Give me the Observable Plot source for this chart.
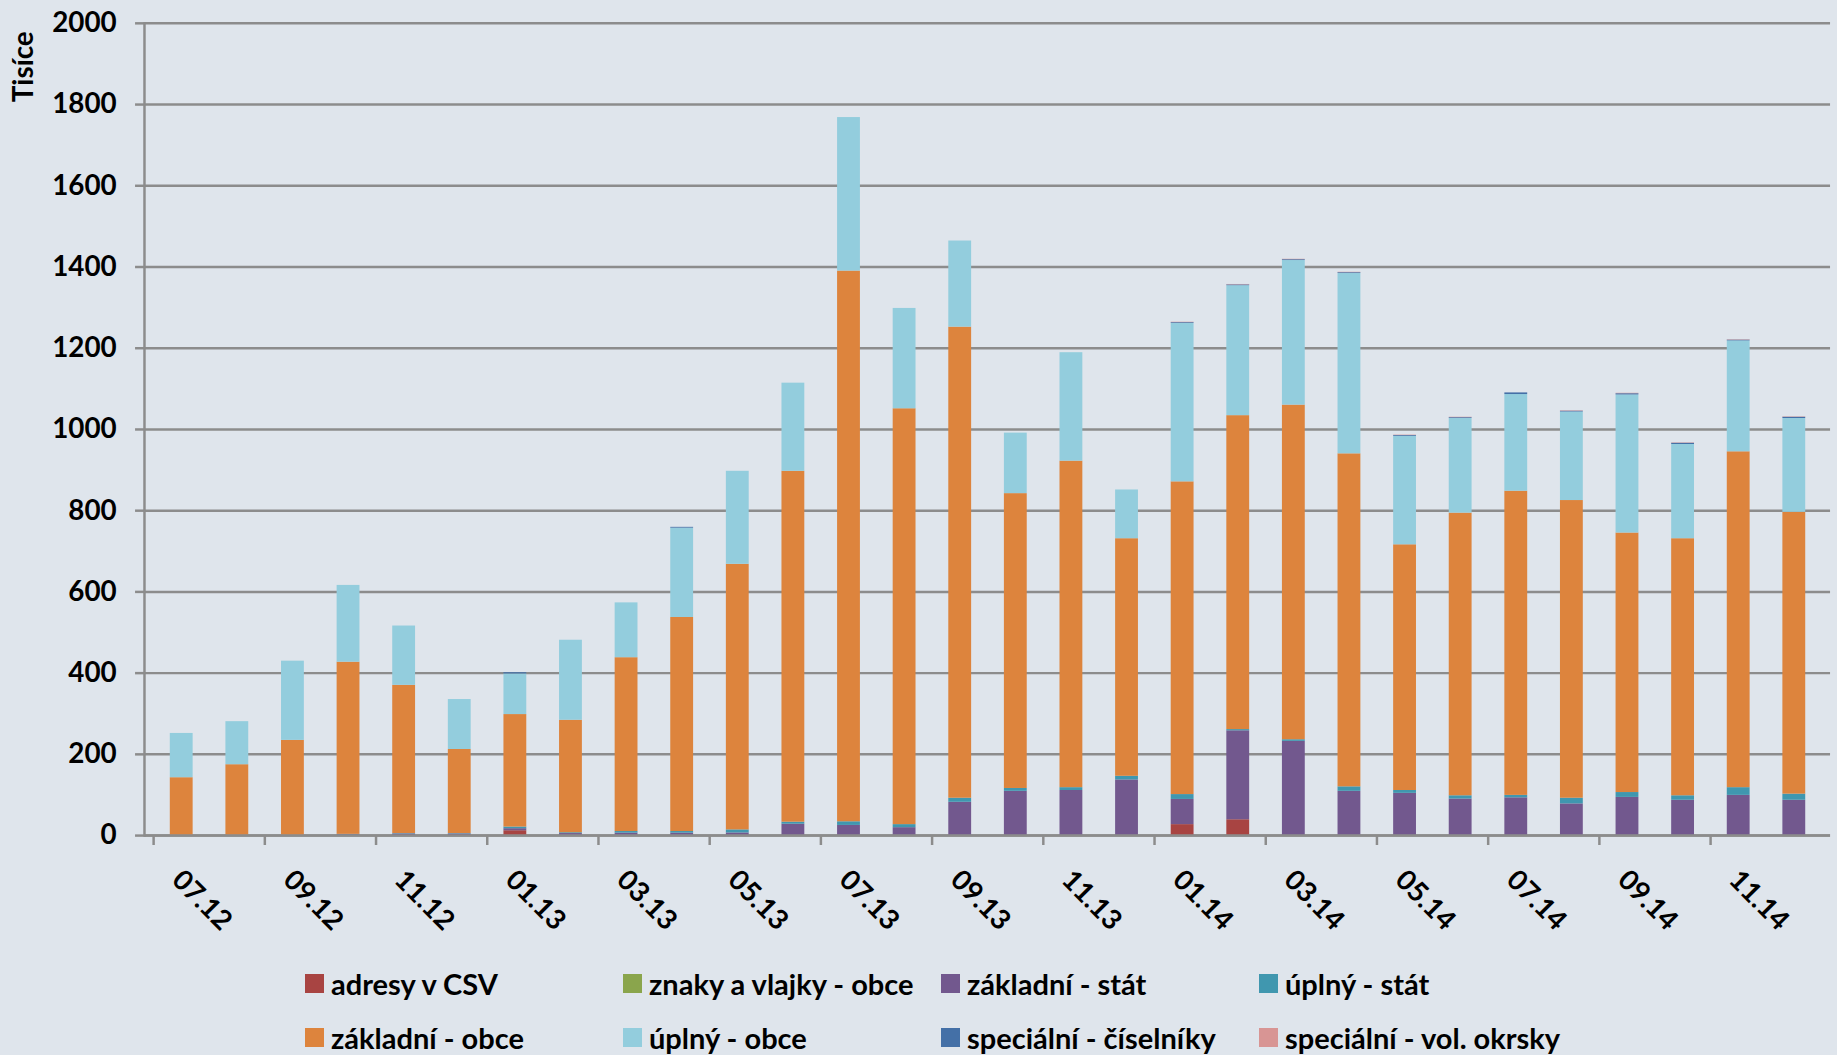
<!DOCTYPE html>
<html><head><meta charset="utf-8">
<script src="https://cdn.jsdelivr.net/npm/d3@7"></script>
<script src="https://cdn.jsdelivr.net/npm/@observablehq/plot@0.6"></script>
<style>
html,body{margin:0;padding:0;background:#dfe5ec;overflow:hidden;width:1837px;height:1055px}
body{font-family:Lato,"Open Sans",sans-serif;font-weight:700;color:#000}
#chart svg{display:block}
#legend{display:grid;grid-template-columns:repeat(4,318px);margin-left:305px;padding-top:3px}
.item{display:flex;align-items:center;height:54px;font-size:29px;white-space:nowrap}
.sw{width:19px;height:19px;margin-right:7px;flex:none}
</style></head><body>
<div id="chart"></div><div id="legend"></div>
<script>
const months = ["07.12","08.12","09.12","10.12","11.12","12.12","01.13","02.13","03.13","04.13","05.13","06.13","07.13","08.13","09.13","10.13","11.13","12.13","01.14","02.14","03.14","04.14","05.14","06.14","07.14","08.14","09.14","10.14","11.14","12.14"];
const xTickLabels = ["07.12","09.12","11.12","01.13","03.13","05.13","07.13","09.13","11.13","01.14","03.14","05.14","07.14","09.14","11.14"];
const yTicks = [0,200,400,600,800,1000,1200,1400,1600,1800,2000];

const seriesNames = ["adresy v CSV","znaky a vlajky - obce","základní - stát","úplný - stát","základní - obce","úplný - obce","speciální - číselníky","speciální - vol. okrsky"];
const seriesColors = ["#a84442","#8aa54c","#72588e","#4097af","#dd843d","#93cddd","#4470a7","#d89594"];

const adresyCSV      = [0,0,0,0,0,0,12,0,0,0,0,0,0,0,0,0,0,0,27,39,0,0,0,0,0,0,0,0,0,0];
const znakyVlajky    = [0,0,0,0,0,0,0,0,0,0,0,0,0,0,0,0,0,0,0,0,0,0,0,0,0,0,0,0,0,0];
const zakladniStat   = [0.5,0.5,0.5,2,4,4,5,5,6,6,6.5,28,25,19.5,82,109,111,137,62,219,232,109,104,90,93,78,94,87,99,87];
const uplnyStat      = [0,0,0,1,1,1,4,2,4,4,7.5,5,9,7.5,10,7,7,9,12,3,4,11,7,8,6,14,12,11,19,15];
const zakladniObce   = [142,174,234,424,365,207,277,277,428,527,654,864,1356,1024,1160,726,804,585,770,773,824,820,605,696,749,733,639,633,827,694];
const uplnyObce      = [109,106,195,189,146,123,100,197,135,220,229,217,378,247,212,149,267,120,390,320,356,444,267,233,238,218,340,232,273,231];
const specCiselniky  = [0,0,0,0,0,0,3,0,0,2,0,0,0,0,0,0,0,0,2,2,2,2,2,2,4,2,3,3,2,3];
const specVolOkrsky  = [0,0,0,0,0,0,0,0,0,0,0,0,0,0,0,0,0,0,1,1,1,1,1,1,0,1,1,1,1,1];

const seriesValues = [adresyCSV, znakyVlajky, zakladniStat, uplnyStat, zakladniObce, uplnyObce, specCiselniky, specVolOkrsky];

const rows = [];
seriesNames.forEach((s, i) => months.forEach((m, j) => rows.push({month: m, series: s, value: seriesValues[i][j]})));

const W = 1850, ML = 145, MR = 7, MT = 23, H = 960, MB = 119;
const step = (W - ML - MR) / months.length;
const grey = "#8c8c8c";
const FS = 28;

const chart = Plot.plot({
  width: W, height: H,
  marginLeft: ML, marginRight: MR, marginTop: MT, marginBottom: MB,
  style: {background: "transparent", fontFamily: "Lato, 'Open Sans', sans-serif", fontWeight: 700, fontSize: FS + "px", color: "#000", overflow: "visible"},
  x: {domain: months, paddingInner: 0.59, paddingOuter: 0.295, align: 0.5},
  y: {domain: [0, 2000]},
  color: {domain: seriesNames, range: seriesColors},
  marks: [
    Plot.gridY(yTicks, {stroke: grey, strokeOpacity: 1, strokeWidth: 2.5}),
    Plot.axisY({ticks: yTicks, tickFormat: d => String(d), tickSize: 9, tickPadding: 19, stroke: grey, strokeWidth: 2.5, label: null, fontSize: FS, fontWeight: 700, fill: "#000"}),
    Plot.axisX({ticks: xTickLabels, tickSize: 10, fill: "none", stroke: grey, strokeWidth: 2.5, dx: -step / 2, label: null}),
    Plot.axisX({ticks: xTickLabels, tickSize: 0, tickPadding: 40, tickRotate: 45, textAnchor: "start", dx: -5, fontSize: FS, fontWeight: 700, fill: "#000", label: null}),
    Plot.barY(rows, {x: "month", y: "value", fill: "series", order: seriesNames}),
    Plot.ruleY([0], {stroke: grey, strokeWidth: 2.5}),
    Plot.frame({anchor: "left", stroke: grey, strokeWidth: 2.5}),
    Plot.text(["Tisíce"], {text: d => d, frameAnchor: "top-left", rotate: -90, textAnchor: "end", dx: -132, dy: 8, fontSize: FS, fontWeight: 700, fill: "#000"})
  ]
});
document.getElementById("chart").appendChild(chart);

const legend = document.getElementById("legend");
seriesNames.forEach((name, i) => {
  const it = document.createElement("div");
  it.className = "item";
  const sw = document.createElement("span");
  sw.className = "sw";
  sw.style.background = seriesColors[i];
  const tx = document.createElement("span");
  tx.textContent = name;
  it.appendChild(sw); it.appendChild(tx);
  legend.appendChild(it);
});
</script>
</body></html>
